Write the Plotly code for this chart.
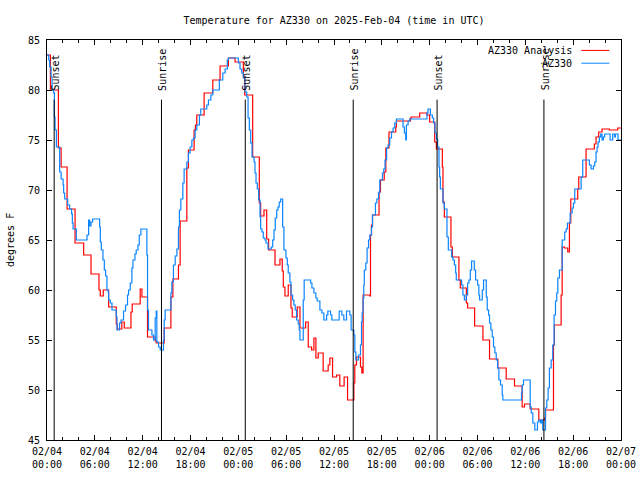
import pandas as pd
import plotly.graph_objects as go

BASE = pd.Timestamp("2025-02-04 00:00")

# ---- AZ330 Analysis (hours since 2025-02-04 00:00 UTC, deg F) ----
analysis_hours = [
    0, 0.43, 1.43, 1.77, 2.52, 3.52, 4.6, 5.52, 6.52, 6.69,
    7.06, 7.73, 8.69, 8.81, 9.38, 9.69, 10.53, 10.69, 11.69, 11.91,
    12.61, 13.57, 13.7, 14.7, 15.54, 15.79, 16.49, 16.7, 17.54, 17.74,
    18.45, 18.62, 18.79, 19.71, 20.8, 21.71, 22.75, 23.59, 24.63, 24.8,
    25.8, 26.63, 26.8, 27.22, 27.56, 27.8, 28.6, 29.22, 29.51, 29.64,
    29.85, 30.26, 30.6, 30.76, 31.39, 31.73, 32.44, 32.77, 33.19, 33.48,
    33.73, 34.02, 34.64, 35.27, 35.48, 35.82, 36.32, 36.73, 37.27, 37.7,
    38.49, 38.61, 38.82, 39.32, 39.49, 39.65, 40.49, 40.58, 40.7, 40.83,
    41.65, 41.83, 42.3, 42.5, 42.9, 43.75, 43.83, 45.59, 45.71, 46.75,
    47.66, 48.0, 48.63, 48.84, 49.59, 49.67, 49.84, 50.67, 50.84, 51.67,
    51.84, 52.6, 52.76, 53.64, 54.68, 55.51, 56.55, 57.6, 58.64, 59.6,
    59.9, 60.61, 61.69, 62.4, 62.53, 63.53, 63.65, 64.49, 64.62, 64.9,
    65.32, 65.53, 65.7, 66.57, 66.7, 67.62, 68.66, 68.87, 69.2, 69.62,
    70.54, 71.58, 72,
]
analysis_temps = [
    83.5, 80, 74.2, 72.3, 68.1, 64.7, 63.5, 61.6, 60, 59.4,
    60, 58.3, 56.6, 56.1, 56.8, 56.2, 57.8, 58.6, 60.1, 59.3,
    55.3, 54.9, 54.7, 56.2, 59.3, 61.1, 62.5, 66.9, 72.2, 74,
    76, 76.5, 77.5, 79.7, 81, 82.4, 83.2, 82.8, 81.3, 79.5,
    73.3, 68.7, 67.4, 68, 65.1, 64, 62.5, 63.1, 61.9, 60.3,
    59.4, 60.5, 58.2, 57.3, 58.3, 56.2, 56.8, 54.3, 54.0, 55.2,
    53.2, 53.7, 51.9, 52.5, 53.2, 51.3, 51.5, 50.4, 51.3, 49,
    50.7, 52.5, 53.3, 52.3, 51.7, 59.5, 59.4, 65.5, 66.5, 67.5,
    69.8, 71, 71.8, 74.2, 75.8, 76.3, 76.9, 77.2, 77.3, 77.7,
    77.5, 76.8, 74.8, 74.1, 72.3, 68.8, 67.3, 64.3, 63.3, 61,
    60.2, 58.7, 58.2, 56.4, 55, 53.1, 52.2, 51.1, 50.4, 48.3,
    48.6, 48.1, 47, 47.2, 48, 54.5, 56.5, 59.5, 64.3, 64.2,
    63.8, 66.7, 69.1, 70.1, 71.3, 74.1, 74.6, 75.3, 75.8, 76.1,
    76.0, 76.2, 76.2,
]

# ---- AZ330 observations ----
obs_hours = [
    0, 0.22, 0.34, 0.51, 0.64, 0.84, 0.93, 1.01, 1.18, 1.59,
    1.77, 2.02, 2.09, 2.22, 2.59, 2.84, 3.09, 3.18, 3.27, 3.68,
    5.02, 5.22, 5.35, 5.52, 5.72, 6.6, 6.69, 6.81, 7.02, 7.19,
    7.35, 7.52, 7.69, 7.73, 7.94, 8.15, 8.69, 8.78, 9.1, 9.28,
    9.6, 9.85, 10.1, 10.23, 10.44, 10.65, 10.78, 11.03, 11.19, 11.41,
    11.57, 11.78, 12.53, 12.61, 12.73, 13.16, 13.36, 13.57, 13.7, 13.78,
    13.99, 14.2, 14.61, 14.7, 14.82, 15.54, 15.66, 15.86, 16.08, 16.29,
    16.49, 16.61, 16.79, 17.04, 17.2, 17.54, 17.74, 17.95, 18.17, 18.37,
    18.58, 18.79, 19.12, 19.29, 20.04, 20.25, 20.55, 20.8, 21.62, 22.05,
    22.34, 22.62, 22.75, 24.0, 24.21, 24.43, 24.63, 24.84, 25.05, 25.22,
    25.38, 25.55, 25.72, 25.97, 26.09, 26.22, 26.38, 26.55, 26.72, 26.8,
    26.97, 27.13, 27.34, 27.47, 27.72, 28.13, 28.31, 28.47, 28.63, 28.81,
    28.97, 29.13, 29.31, 29.56, 29.72, 29.97, 30.14, 30.26, 30.47, 30.6,
    30.81, 30.97, 31.14, 31.31, 31.51, 31.64, 31.73, 32.14, 32.26, 33.07,
    33.23, 33.48, 33.73, 33.89, 34.23, 34.48, 34.73, 35.07, 35.23, 35.57,
    35.73, 36.65, 36.98, 37.23, 37.57, 37.99, 38.15, 38.49, 38.61, 38.74,
    39.07, 39.32, 39.45, 39.53, 39.65, 39.74, 39.8, 39.99, 40.15, 40.33,
    40.49, 40.7, 40.83, 41.2, 41.37, 41.58, 41.74, 42.08, 42.24, 42.4,
    42.6, 42.78, 42.99, 43.21, 43.41, 43.62, 43.83, 44.66, 44.83, 45.0,
    45.08, 45.29, 45.5, 47.66, 47.79, 48.09, 48.34, 48.5, 48.67, 48.84,
    49.0, 49.17, 49.25, 49.34, 49.67, 49.84, 50.17, 50.34, 50.76, 50.92,
    51.1, 51.26, 51.34, 52.01, 52.17, 52.35, 52.6, 52.76, 52.92, 53.1,
    53.26, 53.6, 53.76, 54.01, 54.17, 54.26, 54.6, 54.76, 55.1, 55.22,
    55.39, 55.51, 55.68, 55.85, 56.01, 56.18, 56.35, 56.52, 56.68, 56.89,
    57.1, 57.18, 59.52, 59.61, 59.77, 60.61, 60.74, 60.94, 61.19, 61.52,
    61.69, 61.9, 62.06, 62.19, 62.53, 62.69, 62.86, 63.02, 63.24, 63.44,
    63.61, 63.78, 63.94, 64.07, 64.28, 64.62, 64.94, 65.12, 65.28, 65.62,
    65.87, 66.03, 66.2, 67.0, 67.2, 68.04, 68.25, 68.54, 68.7, 68.87,
    69.0, 69.12, 69.29, 69.45, 69.62, 69.79, 69.95, 70.63, 70.96, 71.21,
    71.3, 71.63, 72,
]
obs_temps = [
    83.5, 83, 82.3, 81.3, 80, 79.7, 77.3, 76, 74.3, 71.8,
    71.1, 70.5, 69.7, 69.1, 68.5, 68.1, 67.6, 66.7, 66.1, 65,
    65.5, 67, 66.4, 66.8, 67.1, 66.3, 64.8, 64, 63, 62,
    61.4, 60, 59.7, 59, 58.7, 58, 57.3, 56, 56.7, 57,
    57.9, 58.5, 59.5, 60, 60.7, 62.2, 63, 63.6, 64, 64.5,
    65.5, 66.1, 63.5, 58, 56, 55.5, 55, 57.2, 57.9, 54.8,
    54.3, 54, 55, 57, 58, 59.7, 60.8, 62.5, 63.4, 64.1,
    66.3, 68, 69.1, 70.7, 72.1, 72.8, 73.7, 74.3, 75, 75.2,
    76, 76.5, 77.5, 78.1, 78.5, 79, 79.5, 80, 81, 81.7,
    82.1, 83, 83.2, 82.7, 82.1, 81.7, 81.2, 79.8, 79.3, 77.2,
    76, 74.7, 73.3, 72.8, 71.7, 70.7, 70.1, 69, 67.3, 66.1,
    65.8, 65.2, 65, 64.7, 64.1, 64.3, 65, 66, 67.2, 68,
    68.3, 68.8, 69.1, 66.3, 64, 63.2, 62.5, 61.7, 60.8, 59.5,
    59, 58.5, 58, 57, 56.6, 56, 55, 59, 61, 60.7,
    60.2, 59.7, 59.2, 58.9, 58, 57.7, 57, 57.5, 57.9, 57.5,
    57, 57.9, 57.5, 57, 57.9, 57.5, 56, 55.5, 53.8, 53,
    53.5, 54.5, 56.8, 57.7, 59.2, 60.5, 62, 62.7, 64.2, 65,
    65.5, 66.3, 67.5, 68.7, 69.1, 69.7, 71, 71.7, 72.1, 73,
    74.2, 74.5, 75.2, 75.8, 76.2, 76.7, 77.1, 76.3, 75.7, 75,
    76.5, 76.9, 77.1, 77.7, 78.1, 77.5, 77.2, 76.7, 75.7, 75.1,
    74.3, 72.3, 71.3, 70.1, 68.7, 68.1, 65.3, 64, 63.3, 63,
    62.5, 61.7, 61, 60.5, 59.5, 59, 59.5, 60.7, 61, 62,
    62.9, 62, 61, 60.5, 59.5, 59, 60, 61, 59.3, 58,
    57.5, 56.7, 56, 55.3, 54.3, 53.7, 53, 52.2, 51, 50.5,
    49.5, 49, 49.7, 50.5, 51, 48.3, 47.7, 46.7, 46, 46.8,
    47, 46.7, 47, 46, 48.2, 49, 50.2, 52.2, 53, 54.5,
    57.5, 58.9, 59.7, 61.2, 62, 65, 65.8, 66.1, 66.7, 67.7,
    68.2, 68.7, 70.1, 71.3, 73, 72.5, 72.1, 72.4, 72.8, 73.8,
    74.3, 74.8, 75.3, 75.6, 75, 75.3, 75.6, 75, 75.6, 75.3,
    75.6, 75, 75,
]

# ---- sun events ----
sun_labels = ["Sunset", "Sunrise", "Sunset", "Sunrise", "Sunset", "Sunrise"]
sun_hours = [0.9, 14.36, 24.87, 38.41, 48.93, 62.33]

series_names = ["AZ330 Analysis", "AZ330"]
series_colors = ["#ff0000", "#0a84ff"]


def to_time(hours):
    return [BASE + pd.Timedelta(hours=h) for h in hours]


FONT = "DejaVu Sans Mono"
fig = go.Figure()
fig.add_trace(go.Scatter(x=to_time(analysis_hours), y=analysis_temps, mode="lines",
                         line=dict(color=series_colors[0], width=1.2, shape="hv"),
                         name=series_names[0], showlegend=False))
fig.add_trace(go.Scatter(x=to_time(obs_hours), y=obs_temps, mode="lines",
                         line=dict(color=series_colors[1], width=1.2, shape="hv"),
                         name=series_names[1], showlegend=False))

for lab, h in zip(sun_labels, sun_hours):
    t = BASE + pd.Timedelta(hours=h)
    fig.add_shape(type="line", xref="x", yref="paper", x0=t, x1=t, y0=0, y1=0.851,
                  line=dict(color="black", width=1))
    fig.add_annotation(x=t, y=0.869, xref="x", yref="paper", text=lab, textangle=-90,
                       showarrow=False, xanchor="center", yanchor="bottom", xshift=1,
                       font=dict(family=FONT, size=10, color="black"))

# manual legend (text left of sample line, like gnuplot)
leg_y = [0.974, 0.942]
for name, col, yy in zip(series_names, series_colors, leg_y):
    fig.add_annotation(x=0.9174, y=yy, xref="paper", yref="paper", text=name,
                       showarrow=False, xanchor="right", yanchor="middle",
                       font=dict(family=FONT, size=10, color="black"))
    fig.add_shape(type="line", xref="paper", yref="paper", x0=0.9308, x1=0.9797,
                  y0=yy, y1=yy, line=dict(color=col, width=1))

fig.add_annotation(x=0, y=0.5, xref="paper", yref="paper", text="degrees F",
                   textangle=-90, showarrow=False, xanchor="center", yanchor="middle",
                   xshift=-37, font=dict(family=FONT, size=10, color="black"))

fig.update_layout(
    width=640, height=480,
    margin=dict(l=47, r=19, t=40, b=40, autoexpand=False),
    paper_bgcolor="white", plot_bgcolor="white",
    title=dict(text="Temperature for AZ330 on 2025-Feb-04 (time in UTC)",
               x=0.5, xref="paper", xanchor="center", y=1 - 20 / 480, yref="container",
               yanchor="middle", font=dict(family=FONT, size=10, color="black"),
               automargin=False),
    font=dict(family=FONT, size=10, color="black"),
    showlegend=False,
)
fig.update_xaxes(
    type="date", range=[BASE, BASE + pd.Timedelta(hours=72)], automargin=False,
    tick0=BASE, dtick=6 * 3600 * 1000, tickformat="%m/%d<br>%H:%M",
    ticks="inside", ticklen=5, tickcolor="black", tickwidth=1,
    showline=True, linecolor="black", linewidth=1, mirror="ticks",
    showgrid=False, zeroline=False, ticklabelstandoff=2,
    minor=dict(dtick=2 * 3600 * 1000, ticks="inside", ticklen=3, tickcolor="black",
               showgrid=False),
    tickfont=dict(family=FONT, size=10, color="black"),
)
fig.update_yaxes(
    range=[45, 85], tick0=45, dtick=5, automargin=False,
    ticks="inside", ticklen=5, tickcolor="black", tickwidth=1,
    showline=True, linecolor="black", linewidth=1, mirror="ticks",
    showgrid=False, zeroline=False, ticklabelstandoff=4,
    tickfont=dict(family=FONT, size=10, color="black"),
)

fig.write_html("out.html",
               config={"displayModeBar": False, "staticPlot": True},
               post_script="document.body.style.margin='0px';"
                           "document.body.style.overflow='hidden';")
